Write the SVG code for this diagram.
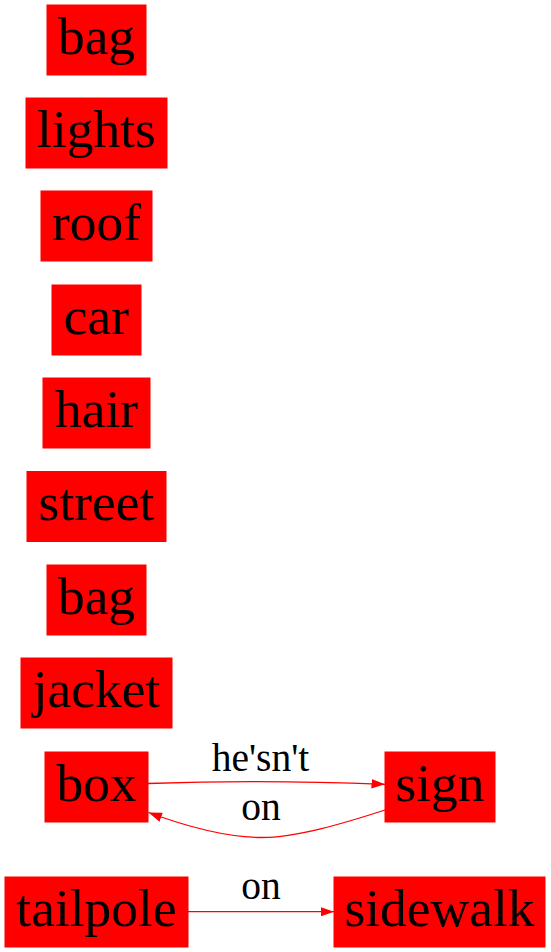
<svg xmlns="http://www.w3.org/2000/svg" width="551" height="952" viewBox="0 0 551 952">
<style>
.n rect{fill:#ff0000;stroke:#ff0000;stroke-width:1}
.n text{font-family:'Liberation Serif','Times New Roman',serif;font-size:53.5px;fill:#000;text-anchor:middle}
.e path{fill:none;stroke:#ff0000;stroke-width:1.3}
.e text{font-family:'Liberation Serif','Times New Roman',serif;font-size:39.5px;fill:#000;text-anchor:middle}
</style>
<defs>
<marker id="ah" viewBox="0 0 13.5 9.5" refX="13.5" refY="4.75" markerWidth="13.5" markerHeight="9.5" markerUnits="userSpaceOnUse" orient="auto">
<path d="M0,0 L13.5,4.75 L0,9.5 Z" fill="#ff0000"/>
</marker>
</defs>
<rect width="551" height="952" fill="#fff"/>
<g id="node-bag1" class="n"><rect x="47" y="5" width="99" height="70"/><text x="96.5" y="53.8">bag</text></g>
<g id="node-lights" class="n"><rect x="26" y="98" width="141" height="70"/><text x="96.5" y="146.8">lights</text></g>
<g id="node-roof" class="n"><rect x="41" y="191" width="111" height="70"/><text x="96.5" y="239.8">roof</text></g>
<g id="node-car" class="n"><rect x="52" y="285" width="89" height="70"/><text x="96.5" y="333.8">car</text></g>
<g id="node-hair" class="n"><rect x="43" y="378" width="107" height="70"/><text x="96.5" y="426.8">hair</text></g>
<g id="node-street" class="n"><rect x="27" y="471.5" width="139" height="70"/><text x="96.5" y="520.3">street</text></g>
<g id="node-bag2" class="n"><rect x="47" y="565" width="99" height="70"/><text x="96.5" y="613.8">bag</text></g>
<g id="node-jacket" class="n"><rect x="21" y="658" width="151" height="70"/><text x="96.5" y="706.8">jacket</text></g>
<g id="node-box" class="n"><rect x="45" y="752" width="103" height="70"/><text x="96.5" y="800.8">box</text></g>
<g id="node-sign" class="n"><rect x="385" y="752" width="110" height="70"/><text x="440" y="800.8">sign</text></g>
<g id="node-tailpole" class="n"><rect x="5" y="877" width="183" height="70"/><text x="96.5" y="925.8">tailpole</text></g>
<g id="node-sidewalk" class="n"><rect x="334" y="877" width="211" height="70"/><text x="439.5" y="925.8">sidewalk</text></g>
<g id="edges" class="e">
<path d="M148,783.5 C220,781 300,781 385,784.3" marker-end="url(#ah)"/>
<text x="260.5" y="770.5">he'sn't</text>
<path d="M385,810 C345,823 295,838 260,837.5 C225,837 185,826 148.5,812.5" marker-end="url(#ah)"/>
<text x="261" y="820">on</text>
<path d="M188,911.7 L334,911.7" marker-end="url(#ah)"/>
<text x="261" y="899">on</text>
</g>
</svg>
